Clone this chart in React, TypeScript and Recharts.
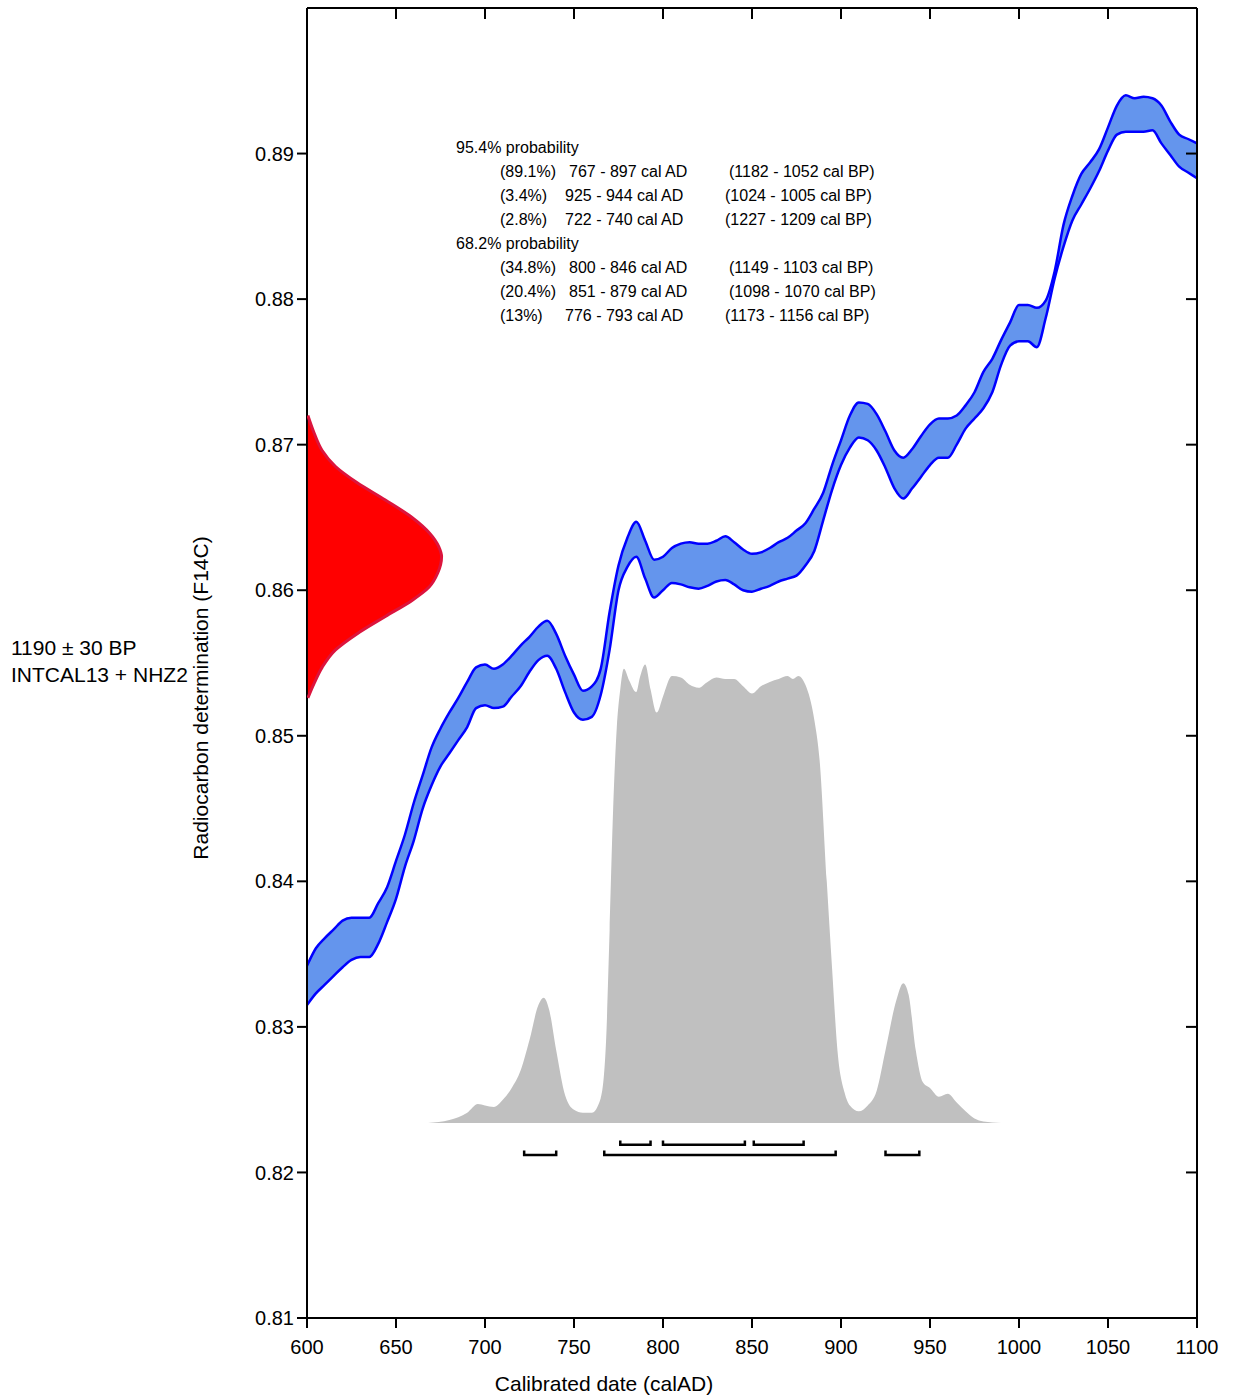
import React from 'react';
import { ComposedChart, XAxis, YAxis, Area, Line, Scatter, ReferenceLine, Curve } from 'recharts';

const FONT = '"Liberation Sans", Arial, Helvetica, sans-serif';

// calibration curve band (F14C), sampled every 5 years
const years = [
  600, 605, 610, 615, 620, 625, 630, 635, 640, 645,
  650, 655, 660, 665, 670, 675, 680, 685, 690, 695,
  700, 705, 710, 715, 720, 725, 730, 735, 740, 745,
  750, 755, 760, 765, 770, 775, 780, 785, 790, 795,
  800, 805, 810, 815, 820, 825, 830, 835, 840, 845,
  850, 855, 860, 865, 870, 875, 880, 885, 890, 895,
  900, 905, 910, 915, 920, 925, 930, 935, 940, 945,
  950, 955, 960, 965, 970, 975, 980, 985, 990, 995,
  1000, 1005, 1010, 1015, 1020, 1025, 1030, 1035, 1040, 1045,
  1050, 1055, 1060, 1065, 1070, 1075, 1080, 1085, 1090, 1095,
  1100,
];
const curveUpper = [
  0.8342, 0.8354, 0.8361, 0.8367, 0.8373, 0.8375, 0.8375, 0.8375, 0.8385, 0.8396,
  0.8414, 0.8432, 0.8454, 0.8473, 0.8492, 0.8505, 0.8516, 0.8526, 0.8537, 0.8547,
  0.8549, 0.8546, 0.8549, 0.8555, 0.8562, 0.8568, 0.8575, 0.8579, 0.8570, 0.8555,
  0.8542, 0.8531, 0.8534, 0.8546, 0.8585, 0.8617, 0.8636, 0.8647, 0.8634, 0.8621,
  0.8623, 0.8629, 0.8632, 0.8633, 0.8632, 0.8632, 0.8634, 0.8637, 0.8633, 0.8628,
  0.8625, 0.8626, 0.8629, 0.8633, 0.8636, 0.8641, 0.8646, 0.8656, 0.8667, 0.8686,
  0.8703, 0.8720, 0.8729, 0.8728, 0.8721, 0.8709, 0.8696, 0.8691, 0.8697, 0.8706,
  0.8714, 0.8718, 0.8718, 0.8720, 0.8727, 0.8736, 0.8750, 0.8759, 0.8772, 0.8784,
  0.8796, 0.8796, 0.8794, 0.8799, 0.8819, 0.8851, 0.8871, 0.8886, 0.8894, 0.8903,
  0.8918, 0.8933, 0.8940, 0.8938, 0.8939, 0.8938, 0.8933, 0.8922, 0.8913, 0.8910,
  0.8907,
];
const curveLower = [
  0.8315, 0.8323, 0.8329, 0.8335, 0.8341, 0.8346, 0.8348, 0.8348, 0.8357, 0.8372,
  0.8388, 0.8410, 0.8428, 0.8450, 0.8466, 0.8479, 0.8488, 0.8497, 0.8506, 0.8519,
  0.8521, 0.8519, 0.8520, 0.8527, 0.8534, 0.8544, 0.8552, 0.8555, 0.8546, 0.8530,
  0.8516, 0.8511, 0.8513, 0.8528, 0.8559, 0.8600, 0.8616, 0.8623, 0.8608, 0.8595,
  0.8600, 0.8605, 0.8604, 0.8602, 0.8601, 0.8603, 0.8606, 0.8607, 0.8604, 0.8600,
  0.8599, 0.8601, 0.8603, 0.8606, 0.8608, 0.8610, 0.8617, 0.8627, 0.8648, 0.8669,
  0.8686, 0.8698, 0.8705, 0.8703, 0.8696, 0.8684, 0.8670, 0.8663, 0.8670, 0.8678,
  0.8686, 0.8691, 0.8691, 0.8700, 0.8711, 0.8718, 0.8725, 0.8736, 0.8755, 0.8768,
  0.8771, 0.8771, 0.8767, 0.8787, 0.8814, 0.8836, 0.8854, 0.8865, 0.8876, 0.8888,
  0.8902, 0.8913, 0.8915, 0.8915, 0.8915, 0.8916, 0.8907, 0.8899, 0.8891, 0.8887,
  0.8883,
];

// calibrated probability distribution (grey)
const probYears = [
  668, 680, 690, 696, 700, 705, 710, 715, 720, 725, 730, 733, 736, 740, 745,
  750, 755, 760, 765, 768, 770, 772, 774, 776, 778, 781, 785, 787, 790, 793,
  796.5, 800, 805, 810, 815, 820, 825, 830, 835, 840, 845, 850, 855, 860, 865,
  870, 873, 876, 880, 885, 888, 892, 895, 898, 902, 905, 910, 915, 920, 925,
  931, 935, 938, 942, 946, 950, 955, 960, 965, 970, 975, 980, 990, 1000,
];
const probTop = [
  0.8234, 0.8236, 0.8241, 0.8247, 0.8246, 0.8245, 0.8250, 0.8258, 0.8270, 0.8291, 0.8315, 0.8320, 0.8312, 0.8284, 0.8253,
  0.8243, 0.8241, 0.8241, 0.8251, 0.8290, 0.8366, 0.8450, 0.8505, 0.8532, 0.8546, 0.8538, 0.8530, 0.8540, 0.8549, 0.8532,
  0.8516, 0.8527, 0.8541, 0.8540, 0.8535, 0.8533, 0.8537, 0.8540, 0.8539, 0.8539, 0.8534, 0.8529, 0.8534, 0.8537, 0.8539,
  0.8541, 0.8539, 0.8541, 0.8535, 0.8511, 0.8483, 0.8400, 0.8340, 0.8284, 0.8255, 0.8246, 0.8242, 0.8246, 0.8256, 0.8284,
  0.8318, 0.8330, 0.8322, 0.8284, 0.8262, 0.8258, 0.8252, 0.8254, 0.8248, 0.8242, 0.8237, 0.8235, 0.8234, 0.8234,
];
const probBase = 0.8234;

// measured date (red), F14C vs. drawn width
const measF14C = [
  0.8720, 0.8708, 0.8696, 0.8685, 0.8674, 0.8662, 0.8650, 0.8639, 0.8630,
  0.8623,
  0.8612, 0.8602, 0.8593, 0.8582, 0.8570, 0.8559, 0.8547, 0.8536, 0.8526,
];
const measWidth = [
  600.5, 604, 608.5, 616, 628, 644, 659, 669, 674,
  675.6,
  673.5, 668.5, 659, 644, 628, 616, 608.5, 604, 600.5,
];

const ranges95 = [
  { pct: '89.1%', from: 767, to: 897, bpFrom: 1182, bpTo: 1052 },
  { pct: '3.4%', from: 925, to: 944, bpFrom: 1024, bpTo: 1005 },
  { pct: '2.8%', from: 722, to: 740, bpFrom: 1227, bpTo: 1209 },
];
const ranges68 = [
  { pct: '34.8%', from: 800, to: 846, bpFrom: 1149, bpTo: 1103 },
  { pct: '20.4%', from: 851, to: 879, bpFrom: 1098, bpTo: 1070 },
  { pct: '13%', from: 776, to: 793, bpFrom: 1173, bpTo: 1156 },
];

const xTicks = [600, 650, 700, 750, 800, 850, 900, 950, 1000, 1050, 1100];
const yTicks = [0.81, 0.82, 0.83, 0.84, 0.85, 0.86, 0.87, 0.88, 0.89];

const band = years.map((x, i) => ({ x, hi: curveUpper[i], lo: curveLower[i] }));
const prob = probYears.map((x, i) => ({ x, p: probTop[i] }));
const meas = measF14C.map((y, i) => ({ x: measWidth[i], y }));

const bracket = (r: { from: number; to: number }, base: number, top: number) => [
  { x: r.from, y: top },
  { x: r.from, y: base },
  { x: r.to, y: base },
  { x: r.to, y: top },
];

const noDot = () => <g />;
const noTick = () => <g />;
const gaussShape = (p: any) => (
  <Curve points={p.points} type="monotoneY" fill="#FF0000" stroke="#DC143C" strokeWidth={3} />
);

const axisStroke = { stroke: '#000', strokeWidth: 2 };
const tickFont = { fill: '#000', fontSize: 20, fontFamily: FONT };

const ProbText = () => {
  const rows: { text?: string; r?: any }[] = [
    { text: '95.4% probability' },
    ...ranges95.map((r) => ({ r })),
    { text: '68.2% probability' },
    ...ranges68.map((r) => ({ r })),
  ];
  return (
    <>
      {rows.map((row, i) => {
        const top = 136 + i * 24;
        const base = { position: 'absolute' as const, top, lineHeight: '24px', fontSize: 16, whiteSpace: 'pre' as const };
        if (row.text) return <div key={i} style={{ ...base, left: 456 }}>{row.text}</div>;
        const wide = row.r.pct.length >= 5;
        return (
          <React.Fragment key={i}>
            <div style={{ ...base, left: 500 }}>({row.r.pct})</div>
            <div style={{ ...base, left: wide ? 569 : 565 }}>{row.r.from} - {row.r.to} cal AD</div>
            <div style={{ ...base, left: wide ? 729 : 725 }}>({row.r.bpFrom} - {row.r.bpTo} cal BP)</div>
          </React.Fragment>
        );
      })}
    </>
  );
};

export default function App() {
  return (
    <div style={{ position: 'absolute', left: 0, top: 0, width: 1233, height: 1395, fontFamily: FONT, color: '#000', background: '#fff' }}>
      <ComposedChart width={1233} height={1395} margin={{ top: 8, right: 36, bottom: 0, left: 0 }}>
        <XAxis dataKey="x" type="number" domain={[600, 1100]} ticks={xTicks} allowDataOverflow interval={0}
          height={77} tickSize={10} tickMargin={12} axisLine={axisStroke} tickLine={axisStroke} tick={tickFont} />
        <XAxis xAxisId="top" dataKey="x" orientation="top" type="number" domain={[600, 1100]} ticks={xTicks} allowDataOverflow
          interval={0} mirror tick={noTick} tickSize={11} axisLine={axisStroke} tickLine={axisStroke} />
        <YAxis type="number" domain={[0.81, 0.9]} ticks={yTicks} allowDataOverflow interval={0}
          width={307} tickSize={10} tickMargin={3} axisLine={axisStroke} tickLine={axisStroke} tick={tickFont} />
        <YAxis yAxisId="right" orientation="right" type="number" domain={[0.81, 0.9]} ticks={yTicks} allowDataOverflow
          interval={0} mirror tick={noTick} tickSize={11} axisLine={axisStroke} tickLine={axisStroke} />

        <Area data={prob} dataKey={(d: any) => [probBase, d.p]} type="monotone" fill="#C0C0C0" fillOpacity={1}
          stroke="none" isAnimationActive={false} />
        <Area data={band} dataKey={(d: any) => [d.lo, d.hi]} type="monotone" fill="#6495ED" fillOpacity={1}
          stroke="none" isAnimationActive={false} />
        <Line data={band} dataKey="hi" type="monotone" stroke="#0000FF" strokeWidth={2.5} dot={false} isAnimationActive={false} />
        <Line data={band} dataKey="lo" type="monotone" stroke="#0000FF" strokeWidth={2.5} dot={false} isAnimationActive={false} />
        {/* keeps the mirrored top/right axes tied to data so their ticks are drawn */}
        <Line data={band} dataKey="hi" xAxisId="top" yAxisId="right" stroke="none" dot={false} legendType="none"
          isAnimationActive={false} />

        <ReferenceLine segment={[{ x: 600, y: 0.8141 }, { x: 600, y: 0.8315 }]} stroke="#0000FF" strokeWidth={2} />
        <ReferenceLine segment={[{ x: 1100, y: 0.8878 }, { x: 1100, y: 0.9 }]} stroke="#0000FF" strokeWidth={2} />

        <Scatter data={meas} dataKey="y" line={gaussShape} shape={noDot} isAnimationActive={false} />

        {ranges95.map((r, i) => (
          <Scatter key={'a' + i} data={bracket(r, 0.8212, 0.8215)} dataKey="y" fill="#000" stroke="#000" strokeWidth={2.5}
            line lineJointType="linear" shape={noDot} isAnimationActive={false} />
        ))}
        {ranges68.map((r, i) => (
          <Scatter key={'b' + i} data={bracket(r, 0.8219, 0.8222)} dataKey="y" fill="#000" stroke="#000" strokeWidth={2.5}
            line lineJointType="linear" shape={noDot} isAnimationActive={false} />
        ))}
      </ComposedChart>

      <div style={{ position: 'absolute', left: 11, top: 634, fontSize: 21, lineHeight: '27px', whiteSpace: 'pre' }}>
        {'1190 ± 30 BP\nINTCAL13 + NHZ2'}
      </div>
      <div style={{ position: 'absolute', left: 1, top: 686, width: 400, textAlign: 'center', fontSize: 21, lineHeight: '24px',
        transform: 'rotate(-90deg)', transformOrigin: '200px 12px', whiteSpace: 'nowrap' }}>
        Radiocarbon determination (F14C)
      </div>
      <div style={{ position: 'absolute', left: 404, top: 1372, width: 400, textAlign: 'center', fontSize: 21, lineHeight: '24px' }}>
        Calibrated date (calAD)
      </div>
      <ProbText />
    </div>
  );
}
